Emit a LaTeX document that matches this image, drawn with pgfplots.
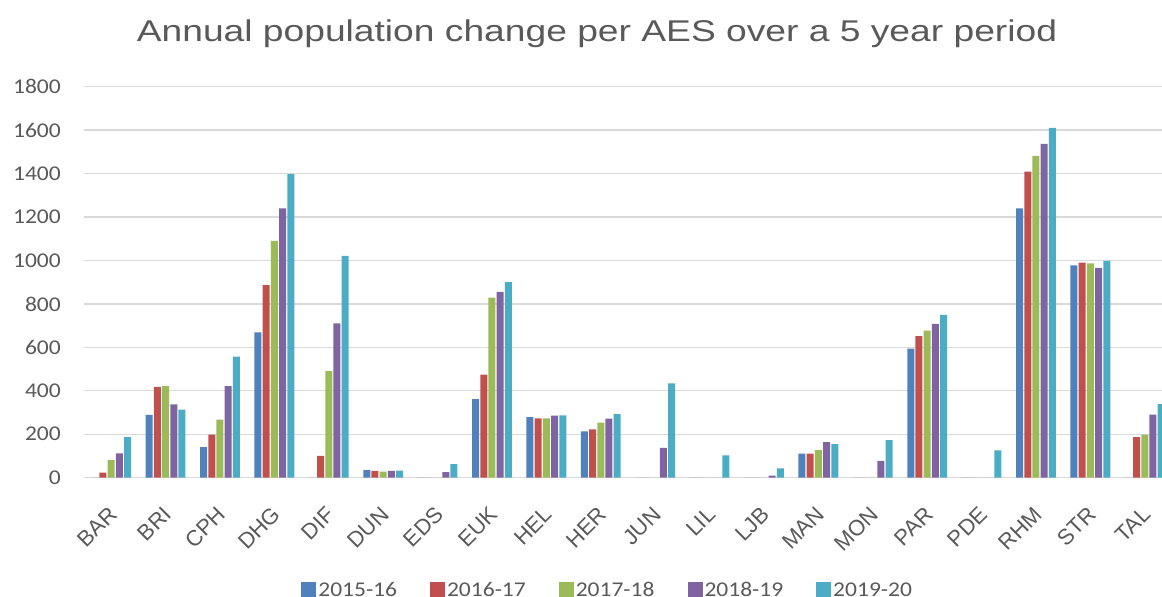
\documentclass[border=0pt]{standalone}
\usepackage{pgfplots}
\pgfplotsset{compat=1.18}
\usepackage{pgfplotstable}
\usepackage{fontspec}
\setmainfont[FakeStretch=1.12]{Carlito}
\newfontfamily\arial{Liberation Sans}
\newfontfamily\arialw[FakeStretch=1.24]{Liberation Sans}
\definecolor{c1}{HTML}{4F81BD}
\definecolor{c2}{HTML}{C0504D}
\definecolor{c3}{HTML}{9BBB59}
\definecolor{c4}{HTML}{8064A2}
\definecolor{c5}{HTML}{4BACC6}
\definecolor{txt}{HTML}{595959}
\definecolor{gridc}{HTML}{D9D9D9}

\pgfplotstableread{
x cat a b c d e
0 BAR 0 23 81 112 187
1 BRI 289 418 422 338 313
2 CPH 141 198 267 421 557
3 DHG 669 887 1090 1240 1397
4 DIF 0 101 491 711 1021
5 DUN 35 31 28 31 32
6 EDS 0 0 0 26 63
7 EUK 362 474 829 855 900
8 HEL 279 273 273 286 287
9 HER 213 223 253 272 293
10 JUN 0 0 0 137 434
11 LIL 0 0 0 0 103
12 LJB 0 0 0 9 43
13 MAN 111 111 127 164 154
14 MON 0 0 0 78 173
15 PAR 594 652 677 708 749
16 PDE 0 0 0 0 126
17 RHM 1240 1409 1481 1537 1610
18 STR 978 990 987 966 998
19 TAL 0 187 198 290 339
}\data

\begin{document}
\begin{tikzpicture}[x=1pt,y=1pt]
\path[use as bounding box] (0,0) rectangle (1162,597);
\begin{axis}[
  at={(84pt,119.3pt)}, anchor=south west, scale only axis,
  width=1088pt, height=391pt,
  xmin=-0.5, xmax=19.5, ymin=0, ymax=1800,
  ybar=1.2pt, bar width=7pt,
  ytick={0,200,...,1800},
  ymajorgrids, grid style={gridc, line width=1.3pt},
  axis x line*=bottom, axis y line*=left,
  x axis line style={gridc, line width=1.3pt, -},
  y axis line style={draw=none},
  xtick=data, xticklabels from table={\data}{cat},
  major tick length=0pt,
  /pgf/number format/assume math mode=true,
  /pgf/number format/1000 sep={},
  yticklabel style={font=\fontsize{21}{25}\selectfont, text=txt, anchor=east, inner sep=0pt, xshift=-23pt},
  xticklabel style={font=\arial\fontsize{22}{26}\selectfont, text=txt, inner sep=0pt, anchor=east, xshift=2pt, yshift=-33pt, rotate=45},
  legend style={at={(0.4813,-0.2875)}, anchor=center, draw=none, fill=none,
    legend columns=5, font=\fontsize{21}{25}\selectfont, text=txt,
    /tikz/every even column/.append style={column sep=31pt}},
  legend image code/.code={\fill[#1] (0pt,-7pt) rectangle (15pt,8pt);},
  clip=true,
]
\addplot[fill=c1, draw=none] table[x=x, y=a] {\data};
\addplot[fill=c2, draw=none] table[x=x, y=b] {\data};
\addplot[fill=c3, draw=none] table[x=x, y=c] {\data};
\addplot[fill=c4, draw=none] table[x=x, y=d] {\data};
\addplot[fill=c5, draw=none] table[x=x, y=e] {\data};
\legend{2015-16, 2016-17, 2017-18, 2018-19, 2019-20}
\end{axis}
\node[anchor=base, text=txt, font=\arialw\fontsize{30}{36}\selectfont, inner sep=0pt] at (597,555) {Annual population change per AES over a 5 year period};
\end{tikzpicture}
\end{document}
